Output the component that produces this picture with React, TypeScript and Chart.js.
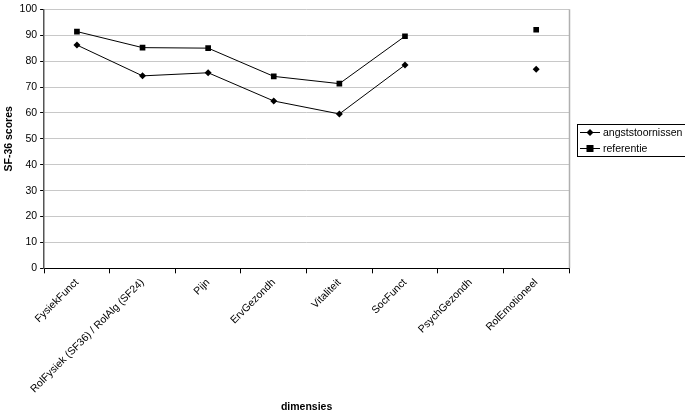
import React, { useEffect, useRef } from "react";
import { Chart, registerables } from "chart.js";

Chart.register(...registerables);

const categories = [
  "FysiekFunct",
  "RolFysiek (SF36) / RolAlg (SF24)",
  "Pijn",
  "ErvGezondh",
  "Vitaliteit",
  "SocFunct",
  "PsychGezondh",
  "RolEmotioneel",
];
const angststoornissen = [86.2, 74.3, 75.5, 64.6, 59.6, 78.5, null, 76.9];
const referentie = [91.4, 85.2, 85.0, 74.1, 71.3, 89.6, null, 92.1];
const seriesNames = ["angststoornissen", "referentie"];

const FONT = "'Liberation Sans', Arial, sans-serif";

const legendPlugin = {
  id: "customLegend",
  afterDraw(chart: any) {
    const ctx = chart.ctx;
    const ca = chart.chartArea;
    ctx.save();
    ctx.strokeStyle = "#b0b0b0";
    ctx.lineWidth = 1.5;
    ctx.beginPath();
    ctx.moveTo(ca.right + 0.5, ca.top);
    ctx.lineTo(ca.right + 0.5, ca.bottom);
    ctx.stroke();

    const bx = 577.5, by = 124.5, bw = 112, bh = 32;
    ctx.strokeStyle = "#000";
    ctx.lineWidth = 1;
    ctx.strokeRect(bx, by, bw, bh);
    ctx.font = "10.5px " + FONT;
    ctx.textBaseline = "middle";
    ctx.fillStyle = "#000";
    const ys = [132.5, 148.5];
    seriesNames.forEach((name, i) => {
      const y = ys[i];
      ctx.beginPath();
      ctx.moveTo(580, y);
      ctx.lineTo(600, y);
      ctx.lineWidth = 1;
      ctx.stroke();
      if (i === 0) {
        ctx.beginPath();
        ctx.moveTo(590, y - 3.5);
        ctx.lineTo(593.5, y);
        ctx.lineTo(590, y + 3.5);
        ctx.lineTo(586.5, y);
        ctx.closePath();
        ctx.fill();
      } else {
        ctx.fillRect(586.5, y - 3.5, 7, 7);
      }
      ctx.fillText(name, 603, y + 0.5);
    });
    ctx.restore();
  },
};

export default function App() {
  const ref = useRef<HTMLCanvasElement>(null);
  useEffect(() => {
    document.body.style.margin = "0";
    const chart = new Chart(ref.current!, {
      type: "line",
      data: {
        labels: categories,
        datasets: [
          {
            label: seriesNames[0],
            data: angststoornissen,
            borderColor: "#000",
            backgroundColor: "#000",
            borderWidth: 1,
            pointStyle: "rectRot",
            pointRadius: 3.5,
            pointBorderWidth: 0,
            spanGaps: false,
            tension: 0,
          },
          {
            label: seriesNames[1],
            data: referentie,
            borderColor: "#000",
            backgroundColor: "#000",
            borderWidth: 1,
            pointStyle: "rect",
            pointRadius: 4,
            pointBorderWidth: 0,
            spanGaps: false,
            tension: 0,
          },
        ],
      },
      options: {
        animation: false,
        responsive: false,
        layout: { padding: { top: 0, right: 116, left: 3, bottom: 4 } },
        plugins: {
          legend: { display: false },
          tooltip: { enabled: false },
        },
        scales: {
          x: {
            offset: true,
            grid: {
              offset: true,
              drawOnChartArea: false,
              drawTicks: true,
              tickLength: 5,
              tickColor: "#000",
            },
            border: { color: "#000", width: 1 },
            ticks: {
              maxRotation: 45,
              minRotation: 45,
              autoSkip: false,
              color: "#000",
              font: { family: FONT, size: 10.5 },
              padding: 3,
            },
            title: {
              display: true,
              text: "dimensies",
              color: "#000",
              font: { family: FONT, size: 10.5, weight: "bold" },
              padding: { top: 2, bottom: 0 },
            },
          },
          y: {
            min: 0,
            max: 100,
            ticks: {
              stepSize: 10,
              color: "#000",
              font: { family: FONT, size: 10.5 },
              padding: 3,
            },
            grid: {
              color: "#c8c8c8",
              tickColor: "#000",
              tickLength: 4,
            },
            border: { color: "#555", width: 1.5 },
            title: {
              display: true,
              text: "SF-36 scores",
              color: "#000",
              font: { family: FONT, size: 10.5, weight: "bold" },
              padding: { top: 0, bottom: 1 },
            },
          },
        },
      },
      plugins: [legendPlugin],
    });
    return () => chart.destroy();
  }, []);
  return (
    <div style={{ position: "fixed", left: 0, top: 0, width: 685, height: 417, background: "#fff" }}>
      <canvas ref={ref} width={685} height={417} style={{ display: "block" }} />
    </div>
  );
}
